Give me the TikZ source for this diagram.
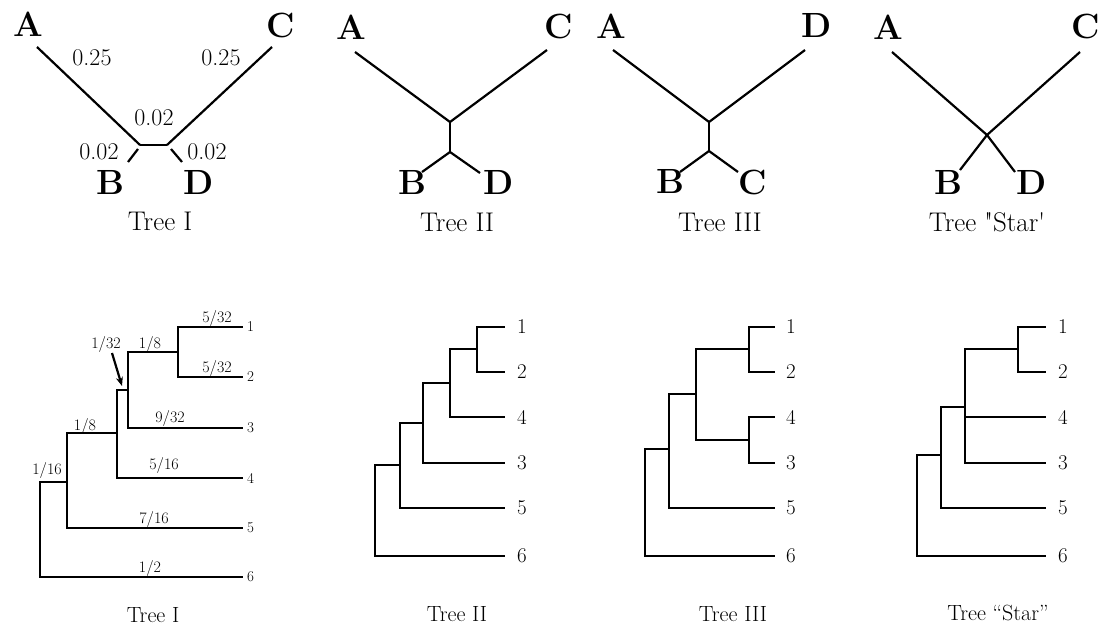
\documentclass[tikz,border=0pt]{standalone}
\usetikzlibrary{arrows.meta}
\begin{document}
\begin{tikzpicture}[x=1pt,y=-1pt,
  br/.style={line width=2.2pt, line cap=butt},
  big/.style={font=\fontsize{35}{40}\selectfont\bfseries, inner sep=0pt},
  num/.style={font=\fontsize{24}{28}\selectfont, inner sep=0pt},
  captop/.style={font=\fontsize{27}{30}\selectfont, inner sep=0pt},
  capbot/.style={font=\fontsize{22}{26}\selectfont, inner sep=0pt},
  frac/.style={font=\fontsize{16}{18}\selectfont, inner sep=0pt},
  leafs/.style={font=\fontsize{15}{17}\selectfont, inner sep=0pt, anchor=west},
  leafb/.style={font=\fontsize{21}{24}\selectfont, inner sep=0pt, anchor=west}]
\useasboundingbox (0,0) rectangle (1102,626);

% ================= Top Tree I =================
\node[big] (tA1) at (28,24) {A};
\node[big] (tC1) at (281,25) {C};
\node[big] (tB1) at (110,182) {B};
\node[big] (tD1) at (199,182) {D};
\node[num] (e1) at (92,58) {0.25};
\node[num] (e2) at (221,58) {0.25};
\node[num] (e3) at (154,118) {0.02};
\node[num] (e4) at (99,152) {0.02};
\node[num] (e5) at (207,152) {0.02};
\node[captop] (cap1) at (160,221) {Tree I};
\coordinate (a1) at (37,47);
\coordinate (c1) at (272,47);
\coordinate (l1) at (140,145);
\coordinate (r1) at (167,145);
\coordinate (bb1) at (138,149);
\coordinate (b1) at (128,162);
\coordinate (dd1) at (171,149);
\coordinate (d1) at (182,162);
\draw[br] (a1) -- (l1);
\draw[br] (c1) -- (r1);
\draw[br] (l1) -- (r1);
\draw[br] (bb1) -- (b1);
\draw[br] (dd1) -- (d1);

% ================= Top Tree II =================
\node[big] (tA2) at (351,27) {A};
\node[big] (tC2) at (559,26) {C};
\node[big] (tB2) at (412,182) {B};
\node[big] (tD2) at (499,182) {D};
\node[captop] (cap2) at (457,222) {Tree II};
\coordinate (a2) at (355,52);
\coordinate (c2) at (547,50);
\coordinate (n2) at (450,122);
\coordinate (m2) at (450,152);
\coordinate (b2) at (422,172);
\coordinate (d2) at (480,173);
\draw[br] (a2) -- (n2) -- (c2);
\draw[br] (n2) -- (m2);
\draw[br] (b2) -- (m2) -- (d2);

% ================= Top Tree III =================
\node[big] (tA3) at (611,26) {A};
\node[big] (tD3) at (817,25) {D};
\node[big] (tB3) at (670,181) {B};
\node[big] (tC3) at (753,182) {C};
\node[captop] (cap3) at (720,222) {Tree III};
\coordinate (a3) at (613,50);
\coordinate (d3) at (805,50);
\coordinate (n3) at (709,122);
\coordinate (m3) at (709,151);
\coordinate (b3) at (680,172);
\coordinate (c3) at (738,172);
\draw[br] (a3) -- (n3) -- (d3);
\draw[br] (n3) -- (m3);
\draw[br] (b3) -- (m3) -- (c3);

% ================= Top Tree Star =================
\node[big] (tA4) at (888,27) {A};
\node[big] (tC4) at (1086,26) {C};
\node[big] (tB4) at (948,182) {B};
\node[big] (tD4) at (1032,182) {D};
\node[captop] (cap4) at (987,222) {Tree \textquotedbl Star\textquotesingle};
\coordinate (a4) at (892,52);
\coordinate (c4) at (1080,52);
\coordinate (n4) at (987,135);
\coordinate (b4) at (960,170);
\coordinate (d4) at (1015,172);
\draw[br] (a4) -- (n4) -- (c4);
\draw[br] (b4) -- (n4) -- (d4);

% ================= Bottom Tree I =================
\coordinate (p1) at (243,327);
\coordinate (p2) at (243,377);
\coordinate (p3) at (243,428);
\coordinate (p4) at (243,478);
\coordinate (p5) at (243,528);
\coordinate (p6) at (243,577);
\coordinate (pX) at (178,352);
\coordinate (pW) at (128,390);
\coordinate (pV) at (117,433);
\coordinate (pU) at (67,482);
\coordinate (pR) at (40,530);
\foreach \a/\b in {pX/p1,pX/p2,pW/pX,pW/p3,pV/pW,pV/p4,pU/pV,pU/p5,pR/pU,pR/p6}
  \draw[br] (\a) |- (\b);
\node[leafs] (q1) at (247,327) {1};
\node[leafs] (q2) at (247,377) {2};
\node[leafs] (q3) at (247,428) {3};
\node[leafs] (q4) at (247,478) {4};
\node[leafs] (q5) at (247,528) {5};
\node[leafs] (q6) at (247,577) {6};
\node[frac] (f1) at (217,318) {5/32};
\node[frac] (f2) at (217,368) {5/32};
\node[frac] (f3) at (150,344) {1/8};
\node[frac] (f4) at (106,344) {1/32};
\node[frac] (f5) at (170,418) {9/32};
\node[frac] (f6) at (85,426) {1/8};
\node[frac] (f7) at (164,465) {5/16};
\node[frac] (f8) at (47,470) {1/16};
\node[frac] (f9) at (154,519) {7/16};
\node[frac] (f10) at (150,568) {1/2};
\coordinate (arr0) at (112,353);
\coordinate (arr1) at (122,386);
\draw[line width=2.2pt, -{Stealth[length=9pt,width=7pt]}] (arr0) -- (arr1);
\node[capbot] (cap5) at (153,615) {Tree I};

% ================= Bottom Tree II =================
\coordinate (s1) at (505,327);
\coordinate (s2) at (505,372);
\coordinate (s4) at (505,417);
\coordinate (s3) at (505,463);
\coordinate (s5) at (505,508);
\coordinate (s6) at (505,556);
\coordinate (sX) at (477,349);
\coordinate (sY) at (450,383);
\coordinate (sZ) at (423,423);
\coordinate (sW) at (400,465);
\coordinate (sR) at (375,510);
\foreach \a/\b in {sX/s1,sX/s2,sY/sX,sY/s4,sZ/sY,sZ/s3,sW/sZ,sW/s5,sR/sW,sR/s6}
  \draw[br] (\a) |- (\b);
\node[leafb] (g1) at (517,327) {1};
\node[leafb] (g2) at (517,372) {2};
\node[leafb] (g4) at (517,417) {4};
\node[leafb] (g3) at (517,463) {3};
\node[leafb] (g5) at (517,508) {5};
\node[leafb] (g6) at (517,556) {6};
\node[capbot] (cap6) at (457,614) {Tree II};

% ================= Bottom Tree III =================
\coordinate (t1) at (775,327);
\coordinate (t2) at (775,372);
\coordinate (t4) at (775,417);
\coordinate (t3) at (775,463);
\coordinate (t5) at (775,508);
\coordinate (t6) at (775,556);
\coordinate (tX) at (749,349);
\coordinate (tQ) at (749,440);
\coordinate (tY) at (696,394);
\coordinate (tZ) at (669,449);
\coordinate (tR) at (645,502);
\foreach \a/\b in {tX/t1,tX/t2,tQ/t4,tQ/t3,tY/tX,tY/tQ,tZ/tY,tZ/t5,tR/tZ,tR/t6}
  \draw[br] (\a) |- (\b);
\node[leafb] (h1) at (786,327) {1};
\node[leafb] (h2) at (786,372) {2};
\node[leafb] (h4) at (786,417) {4};
\node[leafb] (h3) at (786,463) {3};
\node[leafb] (h5) at (786,508) {5};
\node[leafb] (h6) at (786,556) {6};
\node[capbot] (cap7) at (733,614) {Tree III};

% ================= Bottom Tree Star =================
\coordinate (u1) at (1046,327);
\coordinate (u2) at (1046,372);
\coordinate (u4) at (1046,417);
\coordinate (u3) at (1046,463);
\coordinate (u5) at (1046,508);
\coordinate (u6) at (1046,556);
\coordinate (uX) at (1018,349);
\coordinate (uY) at (965,407);
\coordinate (uZ) at (941,455);
\coordinate (uR) at (917,505);
\foreach \a/\b in {uX/u1,uX/u2,uY/uX,uY/u4,uY/u3,uZ/uY,uZ/u5,uR/uZ,uR/u6}
  \draw[br] (\a) |- (\b);
\node[leafb] (k1) at (1058,327) {1};
\node[leafb] (k2) at (1058,372) {2};
\node[leafb] (k4) at (1058,417) {4};
\node[leafb] (k3) at (1058,463) {3};
\node[leafb] (k5) at (1058,508) {5};
\node[leafb] (k6) at (1058,556) {6};
\node[capbot] (cap8) at (998,613) {Tree ``Star''};
\end{tikzpicture}
\end{document}
